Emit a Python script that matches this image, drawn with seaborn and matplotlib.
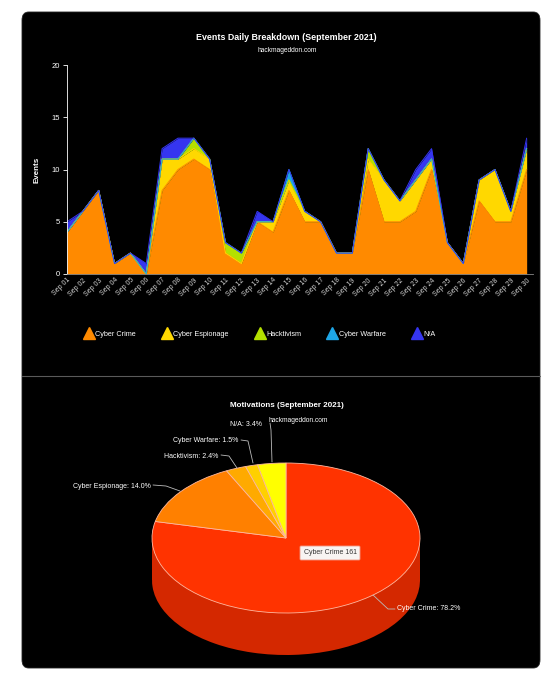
import matplotlib
matplotlib.use("Agg")
import matplotlib.pyplot as plt
import numpy as np
import pandas as pd
import seaborn as sns
from matplotlib.lines import Line2D
from matplotlib.patches import FancyBboxPatch, Rectangle

# Daily events (September 2021)
days = ["Sep 01", "Sep 02", "Sep 03", "Sep 04", "Sep 05", "Sep 06", "Sep 07", "Sep 08",
        "Sep 09", "Sep 10", "Sep 11", "Sep 12", "Sep 13", "Sep 14", "Sep 15", "Sep 16",
        "Sep 17", "Sep 18", "Sep 19", "Sep 20", "Sep 21", "Sep 22", "Sep 23", "Sep 24",
        "Sep 25", "Sep 26", "Sep 27", "Sep 28", "Sep 29", "Sep 30"]
cyber_crime = [4, 6, 8, 1, 2, 0, 8, 10, 11, 10, 2, 1, 5, 4, 8,
               5, 5, 2, 2, 10, 5, 5, 6, 10, 3, 1, 7, 5, 5, 10]
cyber_espionage = [0, 0, 0, 0, 0, 0, 3, 1, 1, 1, 0, 0, 0, 1, 1,
                   1, 0, 0, 0, 1, 4, 2, 3, 1, 0, 0, 2, 5, 1, 2]
hacktivism = [0, 0, 0, 0, 0, 0, 0, 0, 1, 0, 1, 1, 0, 0, 0,
              0, 0, 0, 0, 1, 0, 0, 0, 0, 0, 0, 0, 0, 0, 0]
cyber_warfare = [0, 0, 0, 0, 0, 0, 0, 0, 0, 0, 0, 0, 0, 0, 1,
                 0, 0, 0, 0, 0, 0, 0, 0, 0, 0, 0, 0, 0, 0, 0]
not_available = [1, 0, 0, 0, 0, 1, 1, 2, 0, 0, 0, 0, 1, 0, 0,
                 0, 0, 0, 0, 0, 0, 0, 1, 1, 0, 0, 0, 0, 0, 1]

series_names = ["Cyber Crime", "Cyber Espionage", "Hacktivism", "Cyber Warfare", "N/A"]
area_colors = ["#ff8a00", "#ffd800", "#b4e000", "#1ea6e6", "#3535f0"]

# Motivations pie
motivations = ["Cyber Crime", "Cyber Espionage", "Hacktivism", "Cyber Warfare", "N/A"]
motivation_counts = [161, 29, 5, 3, 7]
motivation_pct = [78.2, 14.0, 2.4, 1.5, 3.4]
pie_colors = ["#ff3300", "#ff8000", "#ffaa00", "#ffd000", "#ffff00"]
pie_side_colors = ["#d42800", "#d46a00", "#d48c00", "#d4ad00", "#d4d400"]

sns.set_style("dark")
plt.rcParams["font.family"] = ["Liberation Sans", "DejaVu Sans"]

W, H = 552, 685
fig = plt.figure(figsize=(W / 100, H / 100), dpi=100)
fig.patch.set_facecolor("white")


def fx(px):
    return px / W


def fy(py):
    return 1 - py / H


# black rounded panel (behind the axes)
panel = FancyBboxPatch((fx(22), fy(668)), fx(518), (668 - 12) / H,
                       boxstyle="round,pad=0,rounding_size=0.012",
                       transform=fig.transFigure, facecolor="black",
                       edgecolor="#222222", linewidth=0.6, zorder=-5)
fig.patches.append(panel)
fig.add_artist(Line2D([fx(22), fx(540)], [fy(376), fy(376)], color="#5a5a5a",
                      linewidth=0.8, transform=fig.transFigure, zorder=-4))

# ---------------- top: stacked area ----------------
df = pd.DataFrame({"day": days, "Cyber Crime": cyber_crime,
                   "Cyber Espionage": cyber_espionage, "Hacktivism": hacktivism,
                   "Cyber Warfare": cyber_warfare, "N/A": not_available})
x = np.arange(len(days))

ax = fig.add_axes([fx(67), fy(274), fx(466), (274 - 65) / H])
ax.set_facecolor("black")
stack = [df[name].to_numpy() for name in series_names]
ax.stackplot(x, *stack, colors=area_colors, linewidth=0)
cum = np.cumsum(np.vstack(stack), axis=0)
for i, name in enumerate(series_names):
    if np.any(stack[i] > 0):
        sns.lineplot(x=x, y=cum[i], color=area_colors[i], linewidth=0.7, ax=ax)

ax.set_xlim(0, 29.4)
ax.set_ylim(0, 20)
ax.set_yticks([0, 5, 10, 15, 20])
ax.set_xticks(x)
ax.set_xticklabels(days, rotation=45, ha="right", rotation_mode="anchor")
ax.tick_params(axis="y", colors="white", labelsize=5.5, length=3, width=0.6, pad=2, left=True)
ax.tick_params(axis="x", colors="#d0d0d0", labelsize=5, length=0, pad=2)
ax.grid(False)
for side in ["top", "right"]:
    ax.spines[side].set_visible(False)
ax.spines["left"].set_color("white")
ax.spines["left"].set_linewidth(0.6)
ax.spines["bottom"].set_color("#888888")
ax.spines["bottom"].set_linewidth(0.6)
ax.set_ylabel("Events", color="white", fontsize=5.8, fontweight="bold", labelpad=8)
ax.set_xlabel("")

fig.text(fx(286), fy(37), "Events Daily Breakdown (September 2021)", color="white",
         fontsize=6.4, fontweight="bold", ha="center", va="center")
fig.text(fx(287), fy(51), "hackmageddon.com", color="white", fontsize=4.8,
         ha="center", va="center")

handles = [Line2D([], [], marker="^", linestyle="none", markersize=8,
                  markerfacecolor=c, markeredgecolor=c) for c in area_colors]
leg = fig.legend(handles, series_names, loc="center", ncol=5,
                 bbox_to_anchor=(fx(260), fy(334)), frameon=False,
                 fontsize=5.2, handletextpad=0.3, columnspacing=3.7,
                 handlelength=1.2)
for t in leg.get_texts():
    t.set_color("white")

# ---------------- bottom: 3D-looking pie ----------------
a_px, b_px, depth_px = 134, 75, 42
cx, cy = 286, 538
left, right, top, bottom = 140, 432, 450, 672
axp = fig.add_axes([fx(left), fy(bottom), fx(right - left), (bottom - top) / H])
axp.set_facecolor("black")
axp.axis("off")
depth = depth_px / b_px

# side (cylinder wall)
axp.pie(motivation_counts, colors=pie_side_colors, startangle=90, counterclock=False,
        center=(0, -depth), radius=1, wedgeprops=dict(linewidth=0))
axp.add_patch(Rectangle((-1, -depth), 2, depth, facecolor=pie_side_colors[0],
                        edgecolor="none", zorder=1))
# top face
wedges, _ = axp.pie(motivation_counts, colors=pie_colors, startangle=90, counterclock=False,
                    center=(0, 0), radius=1,
                    wedgeprops=dict(linewidth=0.6, edgecolor="#ffb8a0"))
for w in wedges:
    w.set_zorder(3)

axp.set_aspect("auto")
axp.set_xlim(-(cx - left) / a_px, (right - cx) / a_px)
axp.set_ylim(-(bottom - cy) / b_px, (cy - top) / b_px)

fig.text(fx(287), fy(405), "Motivations (September 2021)", color="white",
         fontsize=5.8, fontweight="bold", ha="center", va="center")
fig.text(fx(298), fy(420), "hackmageddon.com", color="white", fontsize=4.8,
         ha="center", va="center", zorder=5)

# labels with leader lines (figure pixel positions)
labels = [
    (f"{motivations[1]}: {motivation_pct[1]:.1f}%", (151, 486), "right", [(153, 485), (166, 486), (180, 491)]),
    (f"{motivations[2]}: {motivation_pct[2]:.1f}%", (218, 456), "right", [(221, 455), (229, 456), (237, 468)]),
    (f"{motivations[3]}: {motivation_pct[3]:.1f}%", (238, 441), "right", [(241, 440), (248, 441), (253, 463)]),
    (f"{motivations[4]}: {motivation_pct[4]:.1f}%", (262, 425), "right", [(270, 423), (271, 430), (272, 462)]),
    (f"{motivations[0]}: {motivation_pct[0]:.1f}%", (397, 609), "left", [(373, 595), (388, 609), (395, 609)]),
]
for text, (tx, ty), ha, pts in labels:
    fig.text(fx(tx), fy(ty), text, color="white", fontsize=5, ha=ha, va="center")
    xs = [fx(p[0]) for p in pts]
    ys = [fy(p[1]) for p in pts]
    fig.add_artist(Line2D(xs, ys, color="#bbbbbb", linewidth=0.6, transform=fig.transFigure))

fig.text(fx(330), fy(553), f"{motivations[0]} {motivation_counts[0]}", color="#333333",
         fontsize=5, ha="center", va="center", zorder=6,
         bbox=dict(boxstyle="round,pad=0.5,rounding_size=0.15", facecolor="#f8f4f2",
                   edgecolor="#f0a090", linewidth=0.6))

fig.savefig("out.png", dpi=100, facecolor=fig.get_facecolor())
